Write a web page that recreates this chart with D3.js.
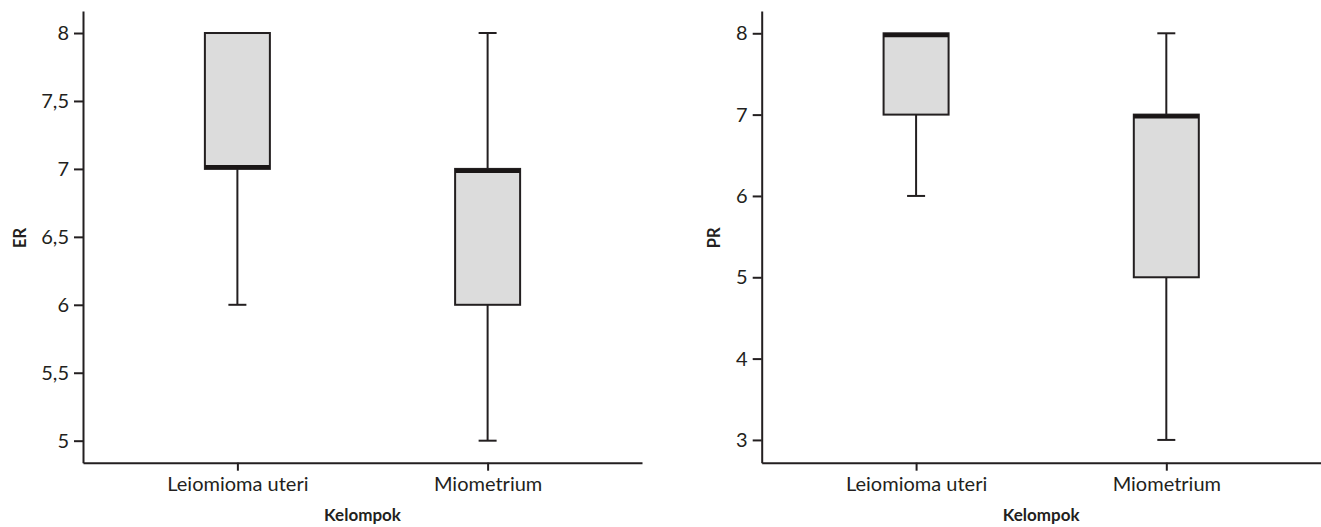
<!DOCTYPE html>
<html><head><meta charset="utf-8">
<script src="https://cdn.jsdelivr.net/npm/d3@7"></script>
<style>
body{margin:0;background:#fff;}
svg{display:block;}
text{font-family:Lato,"Open Sans",sans-serif;fill:#231f20;}
</style></head>
<body>
<svg id="chart" width="1321" height="527"></svg>
<script>
const categories = ["Leiomioma uteri", "Miometrium"];
const erMin = [6, 5];
const erQ1 = [7, 6];
const erMedian = [7, 7];
const erQ3 = [8, 7];
const erMax = [8, 8];
const prMin = [6, 3];
const prQ1 = [7, 5];
const prMedian = [8, 7];
const prQ3 = [8, 7];
const prMax = [8, 8];
const erTicks = [5, 5.5, 6, 6.5, 7, 7.5, 8];
const prTicks = [3, 4, 5, 6, 7, 8];
const xTitle = "Kelompok";

const svg = d3.select("#chart");
const ink = "#231f20";
const fmt = v => String(v).replace(".", ",");

function panel(cfg) {
  const {left, yLabel, labelX, mins, q1s, meds, q3s, maxs, ticks, domain, id} = cfg;
  const top = 11, bottom = 462.7, width = 559;
  const x = d3.scalePoint().domain(categories).range([left, left + width]).padding(0.617);
  const y = d3.scaleLinear().domain(domain).range([bottom, top]);
  const g = svg.append("g");

  const ya = g.append("g").attr("transform", `translate(${left},0)`)
    .call(d3.axisLeft(y).tickValues(ticks).tickFormat(fmt).tickSize(9).tickPadding(5).tickSizeOuter(0));
  const xa = g.append("g").attr("transform", `translate(0,${bottom})`)
    .call(d3.axisBottom(x).tickSize(8).tickPadding(6).tickSizeOuter(0));
  [ya, xa].forEach(a => {
    a.select(".domain").attr("stroke", ink).attr("stroke-width", 2);
    a.selectAll(".tick line").attr("stroke", ink).attr("stroke-width", 2);
    a.selectAll(".tick text").attr("font-size", 20).attr("font-family", "Lato").attr("fill", ink);
  });

  const bw = 65, cap = 9;
  categories.forEach((c, i) => {
    const cx = x(c);
    if (maxs[i] > q3s[i]) {
      g.append("line").attr("x1", cx).attr("x2", cx).attr("y1", y(q3s[i])).attr("y2", y(maxs[i]))
        .attr("stroke", ink).attr("stroke-width", 2);
      g.append("line").attr("x1", cx - cap).attr("x2", cx + cap).attr("y1", y(maxs[i])).attr("y2", y(maxs[i]))
        .attr("stroke", ink).attr("stroke-width", 2);
    }
    if (mins[i] < q1s[i]) {
      g.append("line").attr("x1", cx).attr("x2", cx).attr("y1", y(q1s[i])).attr("y2", y(mins[i]))
        .attr("stroke", ink).attr("stroke-width", 2);
      g.append("line").attr("x1", cx - cap).attr("x2", cx + cap).attr("y1", y(mins[i])).attr("y2", y(mins[i]))
        .attr("stroke", ink).attr("stroke-width", 2);
    }
    const cid = `clip-${id}-${i}`;
    svg.append("clipPath").attr("id", cid).append("rect")
      .attr("x", cx - bw / 2).attr("y", y(q3s[i])).attr("width", bw).attr("height", y(q1s[i]) - y(q3s[i]));
    g.append("rect").attr("x", cx - bw / 2).attr("y", y(q3s[i])).attr("width", bw)
      .attr("height", y(q1s[i]) - y(q3s[i])).attr("fill", "#dcdcdc").attr("stroke", ink).attr("stroke-width", 2);
    g.append("line").attr("x1", cx - bw / 2).attr("x2", cx + bw / 2).attr("y1", y(meds[i])).attr("y2", y(meds[i]))
      .attr("stroke", "#1a1616").attr("stroke-width", 8).attr("clip-path", `url(#${cid})`);
  });

  g.append("text").attr("transform", `translate(${labelX},${(top + bottom) / 2 + 1}) rotate(-90)`)
    .attr("text-anchor", "middle").attr("font-weight", "bold").attr("font-size", 16.5).text(yLabel);
  g.append("text").attr("x", left + width / 2).attr("y", 521).attr("text-anchor", "middle")
    .attr("font-weight", "bold").attr("font-size", 17).text(xTitle);
}

panel({id: "er", left: 83, yLabel: "ER", labelX: 26, mins: erMin, q1s: erQ1, meds: erMedian, q3s: erQ3, maxs: erMax,
  ticks: erTicks, domain: [4.838, 8.162]});
panel({id: "pr", left: 761.7, yLabel: "PR", labelX: 720, mins: prMin, q1s: prQ1, meds: prMedian, q3s: prQ3, maxs: prMax,
  ticks: prTicks, domain: [2.72, 8.274]});
</script>
</body></html>
